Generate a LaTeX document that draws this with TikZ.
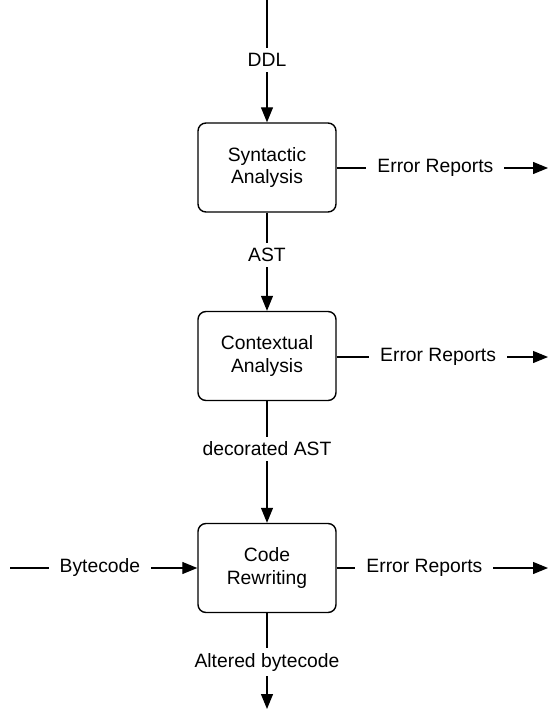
\documentclass[tikz,border=0pt]{standalone}
\usepackage{fontspec}
\setmainfont{Liberation Sans}
\usetikzlibrary{arrows.meta}
\begin{document}
\begin{tikzpicture}[x=1pt,y=-1pt,
  font=\fontsize{19.3}{22.5}\selectfont,
  stage/.style={draw,line width=1.4pt,rounded corners=8pt,minimum width=138pt,
    minimum height=89pt,align=center,inner sep=0pt},
  flow/.style={line width=1.2pt,-{Triangle[length=15pt,width=12pt]}},
  lbl/.style={fill=white,inner xsep=11pt,inner ysep=5pt}]
\useasboundingbox (0,0) rectangle (548,709);

% processing stages
\node[stage] (syn) at (267,167.5) {Syntactic\\Analysis};
\node[stage] (ctx) at (267,356) {Contextual\\Analysis};
\node[stage] (rew) at (267,568) {Code\\Rewriting};

% free ends of the connectors
\coordinate (in)   at (267,0);
\coordinate (out)  at (267,709);
\coordinate (bc)   at (10,568);
\coordinate (err1) at (548,168);
\coordinate (err2) at (548,357);
\coordinate (err3) at (548,568);

% main pipeline
\draw[flow] (in) -- node[lbl,pos=0.49] {DDL} (syn);
\draw[flow] (syn) -- node[lbl,pos=0.43] {AST} (ctx);
\draw[flow] (ctx) -- node[lbl,pos=0.39] {decorated AST} (rew);
\draw[flow] (rew) -- node[lbl,pos=0.51] {Altered bytecode} (out);

% side input
\draw[flow] (bc) -- node[lbl,pos=0.48] {Bytecode} (rew);

% error outputs
\draw[flow] (syn.east |- err1) -- node[lbl,pos=0.467] {Error Reports} (err1);
\draw[flow] (ctx.east |- err2) -- node[lbl,pos=0.48] {Error Reports} (err2);
\draw[flow] (rew.east |- err3) -- node[lbl,pos=0.415] {Error Reports} (err3);
\end{tikzpicture}
\end{document}
